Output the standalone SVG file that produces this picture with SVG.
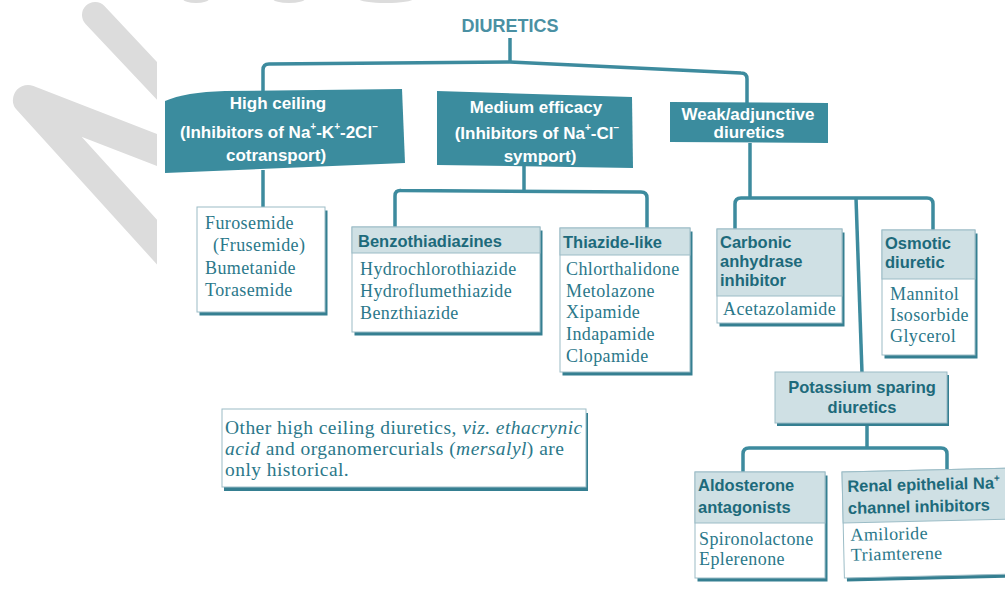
<svg xmlns="http://www.w3.org/2000/svg" width="1005" height="590" viewBox="0 0 1005 590">
<defs>
<clipPath id="wmclip"><rect x="0" y="0" width="157" height="590"/></clipPath>
</defs>
<style>
.wm{fill:none;stroke:#dcdcdc;stroke-linecap:round;stroke-linejoin:round}
.dark{fill:#3b8c9e}
.dt{font-family:"Liberation Sans",Arial,sans-serif;font-weight:bold;font-size:17px;fill:#ffffff;text-anchor:middle}
.sup{font-size:10px}
.shadow{fill:#357f91}
.box{fill:#ffffff;stroke:#9bbcc6;stroke-width:1}
.hdr{fill:#cfe0e4;stroke:#9bbcc6;stroke-width:1}
.ht{font-family:"Liberation Sans",Arial,sans-serif;font-weight:bold;font-size:16.5px;fill:#1d6a7b}
.st{font-family:"Liberation Serif","Times New Roman",serif;font-size:18px;letter-spacing:0.4px;fill:#2b788a}
.nt{font-family:"Liberation Serif","Times New Roman",serif;font-size:19.5px;letter-spacing:0.45px;fill:#2b788a}
.conn path{fill:none;stroke:#3d8b9e;stroke-width:3.5;stroke-linejoin:round}
</style>
<rect x="0" y="0" width="1005" height="590" fill="#ffffff"/>
<g id="watermark" clip-path="url(#wmclip)">
<path class="wm" d="M95,15 L175,100" stroke-width="26"/>
<polyline class="wm" points="175,157 28,100 175,262" stroke-width="30"/>
</g>
<g id="watermark-top" fill="#dcdcdc">
<ellipse cx="196" cy="-1" rx="13" ry="4"/>
<ellipse cx="289" cy="-1" rx="16" ry="4"/>
<ellipse cx="386" cy="-1" rx="27" ry="4"/>
</g>
<g class="conn" id="connectors">
<path d="M510,38 V62"/>
<path d="M263,95 V70 Q263,64 269,64 L510,62 L741,73 Q747,73 747,79 V103"/>
<path d="M263,170 V208"/>
<path d="M524,166 V191"/>
<path d="M395,228 V196 Q395,190 401,190.5 L641,192 Q647,192 647,198 V229"/>
<path d="M750,143 V198"/>
<path d="M735,230 V204 Q735,198 741,198 H927 Q933,198 933,204 V231"/>
<path d="M856,198 L862,373"/>
<path d="M867,423 V448"/>
<path d="M743,473 V454 Q743,448 749,448 H941 Q947,448 947,454 V470"/>
</g>
<g id="title">
<text x="510" y="32" font-family="Liberation Sans,Arial,sans-serif" font-weight="bold" font-size="18" fill="#4a90a3" text-anchor="middle">DIURETICS</text>
</g>
<g id="high-ceiling">
<path class="dark" d="M165,101 Q185,92 225,91 L402,89 L405,163 L165,173 Z"/>
<text class="dt" x="278" y="109">High ceiling</text>
<text class="dt" x="279" y="138">(Inhibitors of Na<tspan class="sup" dy="-8">+</tspan><tspan dy="8">-K</tspan><tspan class="sup" dy="-8">+</tspan><tspan dy="8">-2Cl</tspan><tspan class="sup" dy="-8">−</tspan></text>
<text class="dt" x="276" y="161">cotransport)</text>
</g>
<g id="medium-efficacy">
<path class="dark" d="M437,91 L632,97 L633,168 L437,165 Z"/>
<text class="dt" x="536" y="113">Medium efficacy</text>
<text class="dt" x="537" y="139">(Inhibitors of Na<tspan class="sup" dy="-8">+</tspan><tspan dy="8">-Cl</tspan><tspan class="sup" dy="-8">−</tspan></text>
<text class="dt" x="540" y="162">symport)</text>
</g>
<g id="weak-adjunctive">
<path class="dark" d="M670,102 L828,103 L828,143 L670,142 Z"/>
<text class="dt" x="748" y="120">Weak/adjunctive</text>
<text class="dt" x="749" y="138">diuretics</text>
</g>
<g id="high-ceiling-drugs">
<rect class="shadow" x="199.5" y="210.5" width="128" height="105"/>
<rect class="box" x="197" y="207" width="128" height="105"/>
<text class="st" x="205" y="229">Furosemide</text>
<text class="st" x="213" y="251">(Frusemide)</text>
<text class="st" x="205" y="274">Bumetanide</text>
<text class="st" x="205" y="296">Torasemide</text>
</g>
<g id="benzothiadiazines">
<rect class="shadow" x="354.5" y="230.5" width="188" height="105"/>
<rect class="box" x="352" y="227" width="188" height="105"/>
<rect class="hdr" x="352" y="227" width="188" height="26"/>
<text class="ht" x="358" y="247">Benzothiadiazines</text>
<text class="st" x="360" y="275">Hydrochlorothiazide</text>
<text class="st" x="360" y="297">Hydroflumethiazide</text>
<text class="st" x="360" y="319">Benzthiazide</text>
</g>
<g id="thiazide-like">
<rect class="shadow" x="562.5" y="231.5" width="130" height="144"/>
<rect class="box" x="560" y="228" width="130" height="144"/>
<rect class="hdr" x="560" y="228" width="130" height="27"/>
<text class="ht" x="563" y="248">Thiazide-like</text>
<text class="st" x="566" y="275">Chlorthalidone</text>
<text class="st" x="566" y="297">Metolazone</text>
<text class="st" x="566" y="318">Xipamide</text>
<text class="st" x="566" y="340">Indapamide</text>
<text class="st" x="566" y="362">Clopamide</text>
</g>
<g id="carbonic-anhydrase">
<rect class="shadow" x="719.5" y="232.5" width="125" height="94"/>
<rect class="box" x="717" y="229" width="125" height="94"/>
<rect class="hdr" x="717" y="229" width="125" height="67"/>
<text class="ht" x="720" y="248">Carbonic</text>
<text class="ht" x="720" y="267">anhydrase</text>
<text class="ht" x="720" y="286">inhibitor</text>
<text class="st" x="723" y="315">Acetazolamide</text>
</g>
<g id="osmotic">
<rect class="shadow" x="884.5" y="233.5" width="93" height="125"/>
<rect class="box" x="882" y="230" width="93" height="125"/>
<rect class="hdr" x="882" y="230" width="93" height="49"/>
<text class="ht" x="885" y="249">Osmotic</text>
<text class="ht" x="885" y="268">diuretic</text>
<text class="st" x="890" y="300">Mannitol</text>
<text class="st" x="890" y="321">Isosorbide</text>
<text class="st" x="890" y="342">Glycerol</text>
</g>
<g id="potassium-sparing">
<rect class="shadow" x="777" y="375" width="172" height="51"/>
<rect class="hdr" x="775" y="372" width="172" height="51"/>
<text class="ht" x="862" y="393" text-anchor="middle">Potassium sparing</text>
<text class="ht" x="862" y="413" text-anchor="middle">diuretics</text>
</g>
<g id="aldosterone">
<rect class="shadow" x="697.5" y="475.5" width="130" height="106"/>
<rect class="box" x="695" y="472" width="130" height="106"/>
<rect class="hdr" x="695" y="472" width="130" height="51"/>
<text class="ht" x="698" y="491">Aldosterone</text>
<text class="ht" x="698" y="513">antagonists</text>
<text class="st" x="699" y="545">Spironolactone</text>
<text class="st" x="699" y="565">Eplerenone</text>
</g>
<g id="renal-epithelial" transform="rotate(-1.3 842 472)">
<rect class="shadow" x="844.5" y="475.5" width="175" height="106"/>
<rect class="box" x="842" y="472" width="175" height="106"/>
<rect class="hdr" x="842" y="472" width="175" height="51"/>
<text class="ht" x="847" y="492">Renal epithelial Na<tspan class="sup" dy="-7">+</tspan></text>
<text class="ht" x="847" y="514">channel inhibitors</text>
<text class="st" x="849" y="541">Amiloride</text>
<text class="st" x="849" y="561">Triamterene</text>
</g>
<g id="note">
<rect class="shadow" x="224" y="413" width="364" height="78"/>
<rect class="box" x="222" y="409" width="364" height="78"/>
<text class="nt" x="225" y="434">Other high ceiling diuretics, <tspan font-style="italic">viz. ethacrynic</tspan></text>
<text class="nt" x="225" y="455"><tspan font-style="italic">acid</tspan> and organomercurials (<tspan font-style="italic">mersalyl</tspan>) are</text>
<text class="nt" x="225" y="476">only historical.</text>
</g>
</svg>
